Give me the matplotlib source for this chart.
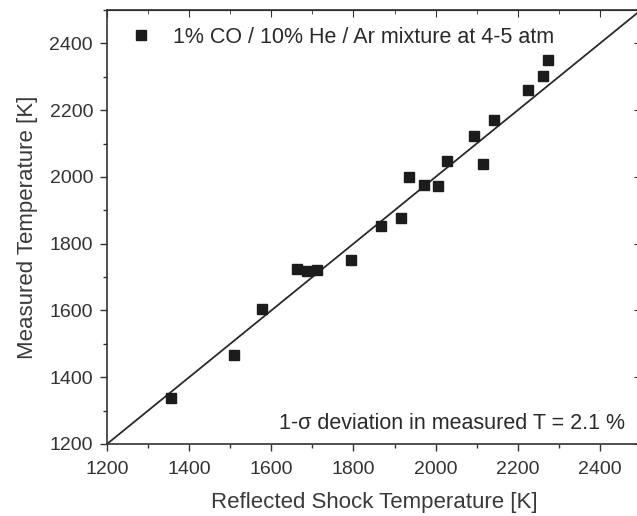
import matplotlib.pyplot as plt
from matplotlib.ticker import MultipleLocator

plt.rcParams['font.family'] = ['Liberation Sans', 'DejaVu Sans']

# reflected shock temperature [K] vs measured temperature [K]
shock_T = [1355, 1508, 1578, 1663, 1687, 1711, 1794, 1867, 1915, 1936,
           1971, 2006, 2027, 2093, 2116, 2141, 2225, 2262, 2274]
measured_T = [1338, 1467, 1604, 1725, 1717, 1722, 1750, 1852, 1877, 2001,
              1977, 1972, 2047, 2124, 2039, 2170, 2260, 2301, 2350]

# 1:1 reference line
line_T = [1200, 2500]

legend_label = "1% CO / 10% He / Ar mixture at 4-5 atm"
note_text = "1-\u03c3 deviation in measured T = 2.1 %"

fig = plt.figure(figsize=(6.37, 5.16), dpi=100)
ax = fig.add_axes([107 / 637, 1 - 444 / 516, 534 / 637, 434 / 516])

ax.plot(line_T, line_T, color="#2a2a2a", lw=1.3, zorder=2)

ax.plot(
    shock_T,
    measured_T,
    linestyle="none",
    marker="s",
    markersize=6.5,
    color="#1c1c1c",
    label=legend_label,
    zorder=3,
)

ax.set_xlim(1200, 2500)
ax.set_ylim(1200, 2500)

ax.xaxis.set_major_locator(MultipleLocator(200))
ax.xaxis.set_minor_locator(MultipleLocator(100))
ax.yaxis.set_major_locator(MultipleLocator(200))
ax.yaxis.set_minor_locator(MultipleLocator(100))

ax.tick_params(which="both", direction="out", top=False, right=False,
               colors="#333333", labelsize=14, width=1.0)
ax.tick_params(axis="x", pad=7)
ax.tick_params(axis="y", pad=5)
ax.tick_params(which="major", length=5)
ax.tick_params(which="minor", length=3)

# mirrored ticks pointing inward on top and right
ax_top = ax.secondary_xaxis("top")
ax_top.xaxis.set_major_locator(MultipleLocator(200))
ax_top.xaxis.set_minor_locator(MultipleLocator(100))
ax_top.tick_params(which="both", direction="in", labeltop=False,
                   colors="#333333")
ax_top.tick_params(which="major", length=5)
ax_top.tick_params(which="minor", length=3)
ax_right = ax.secondary_yaxis("right")
ax_right.yaxis.set_major_locator(MultipleLocator(200))
ax_right.yaxis.set_minor_locator(MultipleLocator(100))
ax_right.tick_params(which="both", direction="in", labelright=False,
                     colors="#333333")
ax_right.tick_params(which="major", length=5)
ax_right.tick_params(which="minor", length=3)

for spine in ax.spines.values():
    spine.set_color("#333333")
    spine.set_linewidth(1.2)

ax.set_xlabel("Reflected Shock Temperature [K]", fontsize=16,
              color="#3a3a3a", labelpad=10)
ax.set_ylabel("Measured Temperature [K]", fontsize=16,
              color="#3a3a3a", labelpad=8)

ax.legend(
    loc="upper left",
    bbox_to_anchor=(0.0, 1.0),
    frameon=False,
    fontsize=15.5,
    handlelength=1.6,
    handletextpad=0.7,
    borderaxespad=0.38,
    labelcolor="#2a2a2a",
)

ax.text(0.97, 0.048, note_text, transform=ax.transAxes, ha="right",
        va="center", fontsize=15.5, color="#2a2a2a")

fig.savefig("out.png", dpi=100)
